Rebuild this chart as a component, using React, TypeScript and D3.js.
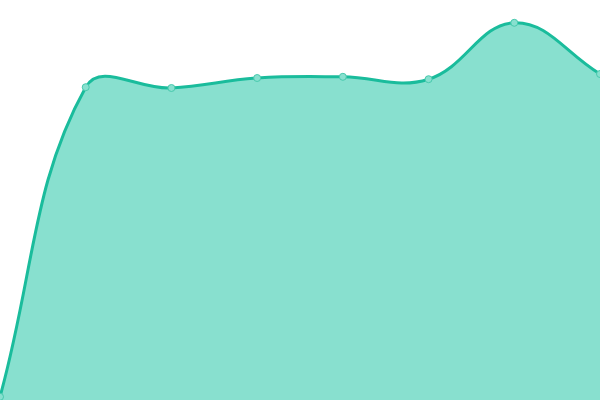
import React, { useEffect, useRef } from "react";
import * as d3 from "d3";

const labels = ["P1", "P2", "P3", "P4", "P5", "P6", "P7", "P8"];
const values = [0.8, 78.2, 78.0, 80.5, 80.8, 80.2, 94.3, 81.5];

const WIDTH = 600;
const HEIGHT = 400;
const TENSION = 0.4;

type Pt = { x: number; y: number };

// spline with tension, control points capped to the drawing area
function splinePath(pts: Pt[], closeTo?: number): string {
  const cps = pts.map((cur, i) => {
    const prev = pts[i - 1] || cur;
    const next = pts[i + 1] || cur;
    const d01 = Math.hypot(cur.x - prev.x, cur.y - prev.y);
    const d12 = Math.hypot(next.x - cur.x, next.y - cur.y);
    let s01 = d01 / (d01 + d12);
    let s12 = d12 / (d01 + d12);
    if (isNaN(s01)) s01 = 0;
    if (isNaN(s12)) s12 = 0;
    const fa = TENSION * s01;
    const fb = TENSION * s12;
    const clampX = (v: number) => Math.max(0, Math.min(WIDTH, v));
    const clampY = (v: number) => Math.max(0, Math.min(HEIGHT, v));
    return {
      prev: { x: clampX(cur.x - fa * (next.x - prev.x)), y: clampY(cur.y - fa * (next.y - prev.y)) },
      next: { x: clampX(cur.x + fb * (next.x - prev.x)), y: clampY(cur.y + fb * (next.y - prev.y)) },
    };
  });
  const p = d3.path();
  p.moveTo(pts[0].x, pts[0].y);
  for (let i = 1; i < pts.length; i++) {
    const a = cps[i - 1].next;
    const b = cps[i].prev;
    p.bezierCurveTo(a.x, a.y, b.x, b.y, pts[i].x, pts[i].y);
  }
  if (closeTo !== undefined) {
    p.lineTo(pts[pts.length - 1].x, closeTo);
    p.lineTo(pts[0].x, closeTo);
    p.closePath();
  }
  return p.toString();
}

const App: React.FC = () => {
  const svgRef = useRef<SVGSVGElement | null>(null);

  useEffect(() => {
    document.body.style.margin = "0";
    const svg = d3.select(svgRef.current);
    svg.selectAll("*").remove();

    const x = d3.scalePoint<string>().domain(labels).range([0, WIDTH]);
    const y = d3.scaleLinear().domain([0, 100]).range([HEIGHT, 0]);

    const pts: Pt[] = values.map((v, i) => ({ x: x(labels[i])!, y: y(v) }));

    svg.append("path").attr("d", splinePath(pts, y(0))).attr("fill", "#88e0cf");

    svg
      .append("path")
      .attr("d", splinePath(pts))
      .attr("fill", "none")
      .attr("stroke", "#1abc9c")
      .attr("stroke-width", 3);

    svg
      .selectAll("circle")
      .data(pts)
      .join("circle")
      .attr("cx", (d) => d.x)
      .attr("cy", (d) => d.y)
      .attr("r", 3.5)
      .attr("fill", "#88e0cf")
      .attr("stroke", "#48c9ad")
      .attr("stroke-width", 1);
  }, []);

  return (
    <svg
      ref={svgRef}
      width={WIDTH}
      height={HEIGHT}
      style={{ position: "absolute", left: 0, top: 0, display: "block" }}
    />
  );
};

export default App;
